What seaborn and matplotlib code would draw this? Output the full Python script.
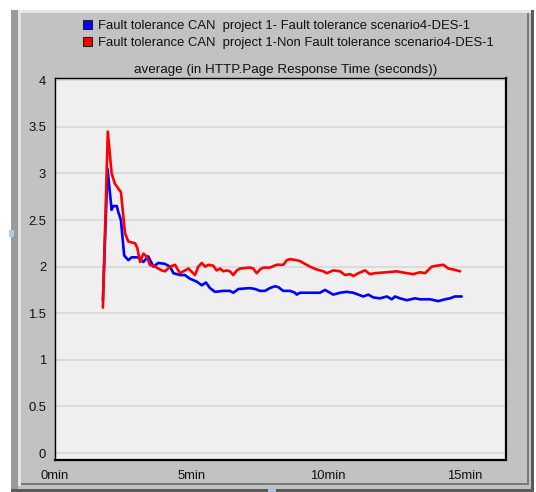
import numpy as np
import pandas as pd
import matplotlib
matplotlib.use("Agg")
import matplotlib.pyplot as plt
from matplotlib.patches import Rectangle, Patch
from matplotlib.ticker import FixedLocator, FixedFormatter
import seaborn as sns

# ---------------- data (minutes, seconds) ----------------
series_names = [
    "Fault tolerance CAN  project 1- Fault tolerance scenario4-DES-1",
    "Fault tolerance CAN  project 1-Non Fault tolerance scenario4-DES-1",
]

ft_time = [1.77, 1.94, 2.09, 2.15, 2.28, 2.33, 2.43, 2.55, 2.70, 2.82, 3.07, 3.25,
           3.43, 3.62, 3.80, 4.04, 4.23, 4.35, 4.59, 4.77, 4.96, 5.20, 5.39, 5.54,
           5.69, 5.87, 6.18, 6.42, 6.54, 6.73, 7.15, 7.34, 7.52, 7.70, 7.88, 8.07,
           8.19, 8.37, 8.62, 8.80, 8.86, 8.98, 9.71, 9.90, 10.20, 10.45, 10.69,
           10.93, 11.30, 11.48, 11.66, 11.91, 12.16, 12.34, 12.46, 12.64, 12.89,
           13.19, 13.37, 13.74, 14.04, 14.29, 14.47, 14.65, 14.90]
ft_value = [1.64, 3.05, 2.61, 2.65, 2.65, 2.59, 2.50, 2.12, 2.07, 2.10, 2.10, 2.05,
            2.11, 2.00, 2.04, 2.03, 2.00, 1.93, 1.91, 1.91, 1.87, 1.84, 1.80, 1.83,
            1.77, 1.73, 1.74, 1.74, 1.72, 1.76, 1.77, 1.76, 1.74, 1.74, 1.77, 1.79,
            1.78, 1.74, 1.74, 1.72, 1.70, 1.72, 1.72, 1.75, 1.70, 1.72, 1.73,
            1.72, 1.68, 1.70, 1.67, 1.66, 1.68, 1.65, 1.68, 1.66, 1.64,
            1.66, 1.65, 1.65, 1.63, 1.65, 1.66, 1.68, 1.68]

nft_time = [1.77, 1.95, 2.09, 2.21, 2.33, 2.43, 2.58, 2.70, 2.95, 3.03, 3.13, 3.25,
            3.37, 3.49, 3.68, 3.92, 4.04, 4.23, 4.41, 4.59, 4.90, 5.14, 5.26, 5.39,
            5.51, 5.63, 5.81, 5.93, 6.06, 6.18, 6.30, 6.42, 6.54, 6.67, 6.79, 7.15,
            7.27, 7.40, 7.52, 7.64, 7.88, 8.13, 8.37, 8.50, 8.62, 8.86, 8.98, 9.10,
            9.35, 9.59, 9.84, 9.96, 10.20, 10.45, 10.63, 10.81, 10.93, 11.12, 11.36,
            11.54, 11.73, 12.16, 12.52, 12.89, 13.13, 13.37, 13.56, 13.80, 13.98,
            14.23, 14.41, 14.59, 14.84]
nft_value = [1.56, 3.45, 3.00, 2.89, 2.84, 2.80, 2.36, 2.27, 2.25, 2.20, 2.05, 2.14,
             2.11, 2.02, 2.00, 1.96, 1.95, 2.00, 2.02, 1.93, 1.98, 1.91, 2.00, 2.04,
             2.00, 2.02, 2.01, 1.96, 1.98, 1.95, 1.96, 1.95, 1.91, 1.96, 1.98, 1.99,
             1.98, 1.93, 1.97, 1.99, 1.99, 2.02, 2.02, 2.07, 2.08, 2.07, 2.06, 2.04,
             2.00, 1.97, 1.95, 1.93, 1.96, 1.95, 1.91, 1.92, 1.90, 1.93, 1.96,
             1.92, 1.93, 1.94, 1.95, 1.93, 1.92, 1.94, 1.93, 2.00, 2.01,
             2.02, 1.98, 1.97, 1.95]

y_ticks = [0, 0.5, 1, 1.5, 2, 2.5, 3, 3.5, 4]
y_tick_labels = ["0", "0.5", "1", "1.5", "2", "2.5", "3", "3.5", "4"]
x_ticks = [0, 5, 10, 15]
x_tick_labels = ["0min", "5min", "10min", "15min"]
title_text = "average (in HTTP.Page Response Time (seconds))"
colors = ["#0000ff", "#ff0000"]

df = pd.concat([
    pd.DataFrame({"time": ft_time, "value": ft_value, "series": series_names[0]}),
    pd.DataFrame({"time": nft_time, "value": nft_value, "series": series_names[1]}),
], ignore_index=True)

# ---------------- figure ----------------
sns.set_style("white")
plt.rcParams["font.family"] = ["Liberation Sans", "DejaVu Sans"]

W, H = 536, 492
fig = plt.figure(figsize=(W / 100, H / 100), dpi=100)
fig.patch.set_facecolor("white")

def px_rect(x0, y0, x1, y1, color, z=0):
    fig.patches.append(Rectangle((x0 / W, 1 - y1 / H), (x1 - x0) / W, (y1 - y0) / H,
                                 transform=fig.transFigure, facecolor=color,
                                 edgecolor="none", zorder=z))

# panel frame (drawn below the axes)
px_rect(11, 10, 534, 492, "#5a5a5a", -10)
px_rect(11, 10, 531, 489, "#c2c2c2", -9)
px_rect(11, 10, 18, 489, "#9a9a9a", -8)
px_rect(18, 10, 21, 486, "#e4e4e4", -8)
px_rect(18, 10, 531, 13, "#e6e6e6", -8)
px_rect(21, 483, 529, 485, "#7a7a7a", -8)
px_rect(527, 13, 529, 485, "#7a7a7a", -8)
px_rect(9, 230, 14, 237, "#a9cde8", -7)
px_rect(268, 487, 276, 492, "#a9c4e0", -7)

ax_left, ax_right, ax_top, ax_bottom = 54.5, 506, 77.5, 460
ax = fig.add_axes([ax_left / W, 1 - ax_bottom / H, (ax_right - ax_left) / W,
                   (ax_bottom - ax_top) / H])
ax.set_zorder(5)
ax.set_facecolor("#efefef")

sns.lineplot(data=df, x="time", y="value", hue="series", palette=colors,
             hue_order=series_names, linewidth=1.9, ax=ax, legend=False,
             estimator=None, sort=False)

ax.set_xlim(0, 16.52)
ax.set_ylim(-0.075, 4.03)
ax.set_xlabel("")
ax.set_ylabel("")

ax.yaxis.set_major_locator(FixedLocator(y_ticks))
ax.yaxis.set_major_formatter(FixedFormatter(y_tick_labels))
ax.xaxis.set_major_locator(FixedLocator(x_ticks))
ax.xaxis.set_major_formatter(FixedFormatter(x_tick_labels))
ax.xaxis.set_minor_locator(FixedLocator([2.5, 7.5, 12.5]))

ax.grid(axis="y", color="#d9d9d9", linewidth=1.3)
ax.grid(axis="x", visible=False)
ax.set_axisbelow(True)

ax.tick_params(axis="both", which="major", direction="out", length=4, width=1,
               color="black", labelsize=9.4, labelcolor="#111111", pad=2)
ax.tick_params(axis="x", which="minor", direction="out", length=4, width=1, color="black")
ax.tick_params(axis="x", which="major", pad=3)
for s in ["left", "top"]:
    ax.spines[s].set_color("black")
    ax.spines[s].set_linewidth(1.0)
for s in ["right", "bottom"]:
    ax.spines[s].set_color("black")
    ax.spines[s].set_linewidth(1.6)

# legend
handles = [Patch(facecolor=c, edgecolor="#222222", linewidth=0.8) for c in colors]
leg = fig.legend(handles, series_names, loc="upper left",
                 bbox_to_anchor=(83 / W, 1 - 19.5 / H), frameon=False, fontsize=9.4,
                 handlelength=0.7, handleheight=0.7, handletextpad=0.45,
                 labelspacing=0.42, borderpad=0, borderaxespad=0, labelcolor="#111111")
leg.set_zorder(6)

fig.text(286 / W, 1 - 70 / H, title_text, ha="center", va="center",
         fontsize=9.6, color="#111111", zorder=6)

fig.savefig("out.png", dpi=100, facecolor=fig.get_facecolor())
